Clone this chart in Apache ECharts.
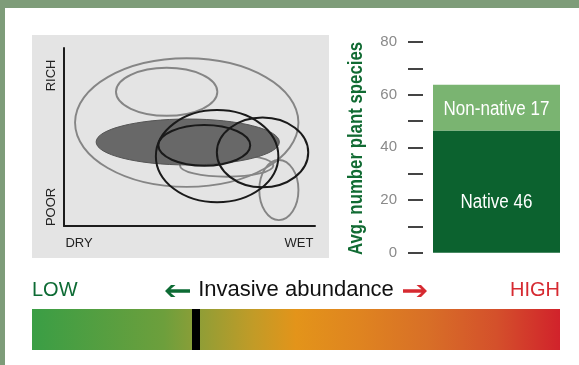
<!DOCTYPE html>
<html><head><meta charset="utf-8">
<script src="https://cdn.jsdelivr.net/npm/echarts@6/dist/echarts.min.js"></script>
<style>html,body{margin:0;padding:0;background:#fff}#c{width:579px;height:365px}</style>
</head><body><div id="c"></div>
<script>
// ---- data ----
// ellipses: [centre moisture, centre richness, half-width, half-height] in 0-100 axis units
const greyEllipses = [[48.9, 58.1, 44.5, 36.1], [40.9, 75.4, 20.2, 13.5], [64.8, 34.0, 18.6, 6.3], [85.6, 20.2, 7.8, 16.9]];
const filledEllipses = [[49.3, 47.2, 36.5, 12.9]];
const blackEllipses = [[55.9, 45.3, 18.3, 11.4], [61.0, 39.2, 24.4, 25.9], [79.1, 41.3, 18.2, 19.6]];
const moistureLabels = ['DRY', 'WET'];
const richnessLabels = ['POOR', 'RICH'];
const speciesCategories = ['Native', 'Non-native'];
const speciesValues = [46.4, 17.4];
const speciesTicks = [0, 20, 40, 60, 80];
const abundanceLabels = ['LOW', 'HIGH'];
const abundanceTitle = 'Invasive abundance';
const abundanceMarker = 31.1;
const speciesAxisName = 'Avg. number plant species';

const sans = "'Liberation Sans', Arial, sans-serif";

function ellipseItem(style) {
  return function (params, api) {
    const c = api.coord([api.value(0), api.value(1)]);
    const s = api.size([api.value(2), api.value(3)]);
    return { type: 'ellipse', shape: { cx: c[0], cy: c[1], rx: s[0], ry: s[1] }, style: style };
  };
}

// stacked segment extents for the bar labels
let acc = 0;
const segmentData = speciesValues.map(v => { const r = [0, acc, acc + v]; acc += v; return r; });
const labelShift = [11, 2];

const chart = echarts.init(document.getElementById('c'), null, { renderer: 'canvas' });
const xLabelVals = [6.0, 93.6];
const yLabelVals = [10.7, 84.6];

chart.setOption({
  animation: false,
  backgroundColor: '#ffffff',
  graphic: [
    { type: 'rect', z: 0, silent: true, shape: { x: 0, y: 0, width: 579, height: 8 }, style: { fill: '#7e9c79' } },
    { type: 'rect', z: 0, silent: true, shape: { x: 0, y: 0, width: 5, height: 365 }, style: { fill: '#7e9c79' } },
    { type: 'rect', z: 0, silent: true, shape: { x: 32, y: 35, width: 297, height: 223 }, style: { fill: '#e4e4e4' } },
    { type: 'polygon', z: 5, silent: true, shape: { points: [[165, 291], [171, 285], [175.5, 285], [170.5, 289.2], [190, 289.2], [190, 292.8], [170.5, 292.8], [175.5, 297], [171, 297]] }, style: { fill: '#0d6b34' } },
    { type: 'polygon', z: 5, silent: true, shape: { points: [[427, 291], [421, 285], [416.5, 285], [421.5, 289.2], [403, 289.2], [403, 292.8], [421.5, 292.8], [416.5, 297], [421, 297]] }, style: { fill: '#d62a31' } },
    { type: 'text', z: 5, silent: true, x: 356, y: 148.5, rotation: Math.PI / 2, scaleX: 0.8,
      style: { text: speciesAxisName, fill: '#116b33', font: "bold 21px 'Liberation Sans', Arial, sans-serif", align: 'center', verticalAlign: 'middle' } }
  ],
  grid: [
    { left: 64, top: 48, width: 251, height: 178 },
    { left: 433, top: 42, width: 127, height: 210.7 },
    { left: 32, top: 309, width: 528, height: 41 }
  ],
  xAxis: [
    { gridIndex: 0, type: 'value', min: 0, max: 100, splitLine: { show: false }, axisTick: { show: false },
      axisLine: { show: true, lineStyle: { color: '#1c1c1c', width: 2 } },
      axisLabel: { customValues: xLabelVals, formatter: v => moistureLabels[xLabelVals.indexOf(v)], margin: 11, fontSize: 13, color: '#222', fontFamily: sans } },
    { gridIndex: 1, type: 'category', data: ['species'], show: false },
    { gridIndex: 2, type: 'value', position: 'top', min: 0, max: 100, interval: 100, splitLine: { show: false }, axisTick: { show: false }, axisLine: { show: false },
      axisLabel: { showMinLabel: true, showMaxLabel: true, alignMinLabel: 'left', alignMaxLabel: 'right', margin: 9,
        formatter: v => v === 0 ? '{low|' + abundanceLabels[0] + '}' : '{high|' + abundanceLabels[1] + '}',
        rich: { low: { color: '#0d6b34', fontSize: 20, fontFamily: sans }, high: { color: '#d62a31', fontSize: 20, fontFamily: sans } } },
      name: abundanceTitle, nameLocation: 'middle', nameGap: 8, nameMoveOverlap: false,
      nameTextStyle: { fontSize: 22, color: '#111', fontFamily: sans } }
  ],
  yAxis: [
    { gridIndex: 0, type: 'value', min: 0, max: 100, splitLine: { show: false }, axisTick: { show: false },
      axisLine: { show: true, lineStyle: { color: '#1c1c1c', width: 2 } },
      axisLabel: { customValues: yLabelVals, formatter: v => richnessLabels[yLabelVals.indexOf(v)], rotate: 90, margin: 6, fontSize: 13, color: '#222', fontFamily: sans } },
    { gridIndex: 1, type: 'value', min: 0, max: 80, interval: 10, offset: 10, splitLine: { show: false },
      axisLine: { show: false },
      axisTick: { show: true, length: 15, lineStyle: { color: '#444', width: 2 } },
      axisLabel: { margin: 26, fontSize: 15, color: '#8a8a8a', fontFamily: sans, formatter: v => speciesTicks.indexOf(v) >= 0 ? String(v) : '' } },
    { gridIndex: 2, type: 'category', data: ['abundance'], show: false }
  ],
  series: [
    { type: 'custom', xAxisIndex: 0, yAxisIndex: 0, z: 3, data: greyEllipses,
      renderItem: ellipseItem({ fill: null, stroke: '#858585', lineWidth: 1.9 }) },
    { type: 'custom', xAxisIndex: 0, yAxisIndex: 0, z: 4, data: filledEllipses,
      renderItem: ellipseItem({ fill: '#686868', stroke: '#555', lineWidth: 1 }) },
    { type: 'custom', xAxisIndex: 0, yAxisIndex: 0, z: 5, data: blackEllipses,
      renderItem: ellipseItem({ fill: null, stroke: '#1a1a1a', lineWidth: 2 }) },
    { type: 'bar', name: speciesCategories[0], xAxisIndex: 1, yAxisIndex: 1, stack: 'sp', barWidth: '100%',
      data: [speciesValues[0]], itemStyle: { color: '#0c622f' } },
    { type: 'bar', name: speciesCategories[1], xAxisIndex: 1, yAxisIndex: 1, stack: 'sp', barWidth: '100%',
      data: [speciesValues[1]], itemStyle: { color: '#7ab471' } },
    { type: 'custom', xAxisIndex: 1, yAxisIndex: 1, z: 6, data: segmentData,
      renderItem: function (params, api) {
        const i = params.dataIndex;
        const a = api.coord([api.value(0), api.value(1)]);
        const b = api.coord([api.value(0), api.value(2)]);
        const val = api.value(2) - api.value(1);
        return { type: 'text', x: a[0], y: (a[1] + b[1]) / 2 + labelShift[i], scaleX: 0.85,
          style: { text: speciesCategories[i] + ' ' + Math.round(val), fill: '#fff',
            font: "20px 'Liberation Sans', Arial, sans-serif", align: 'center', verticalAlign: 'middle',
            textAlign: 'center', textVerticalAlign: 'middle' } };
      } },
    { type: 'bar', xAxisIndex: 2, yAxisIndex: 2, barWidth: '100%', data: [100],
      itemStyle: { color: new echarts.graphic.LinearGradient(0, 0, 1, 0, [
        { offset: 0, color: '#3a9e45' }, { offset: 0.25, color: '#6d9f3c' }, { offset: 0.31, color: '#8c9e37' },
        { offset: 0.42, color: '#c29b27' }, { offset: 0.5, color: '#e3941a' }, { offset: 0.62, color: '#df8420' },
        { offset: 0.75, color: '#d86f27' }, { offset: 0.88, color: '#d4502b' }, { offset: 1, color: '#d1222b' }]) },
      markLine: { silent: true, symbol: ['none', 'none'], label: { show: false },
        lineStyle: { color: '#000', width: 8, type: 'solid' }, data: [{ xAxis: abundanceMarker }] } }
  ]
});
</script></body></html>
